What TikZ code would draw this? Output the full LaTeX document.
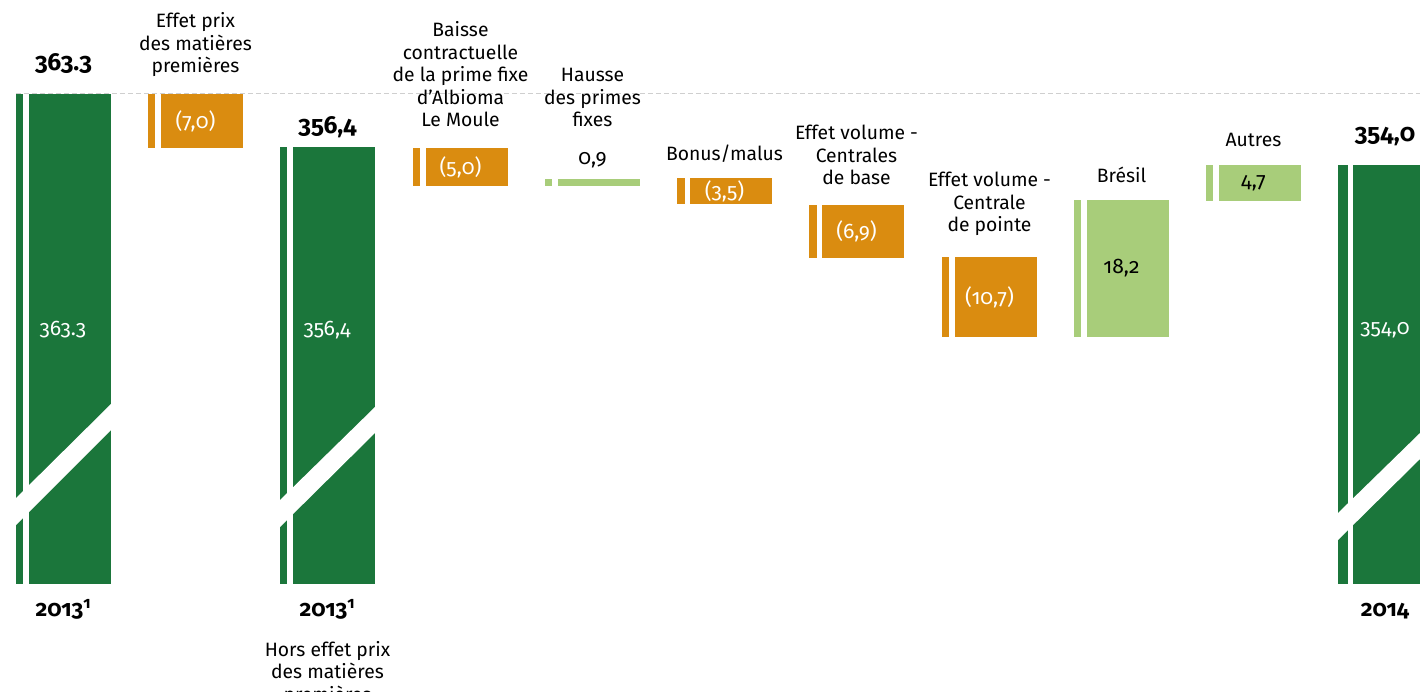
\documentclass[tikz,border=0pt]{standalone}
\usepackage{fontspec}
\setmainfont{Fira Sans}[Numbers=OldStyle]

\definecolor{dkgreen}{HTML}{1B763B}
\definecolor{amber}{HTML}{DA8C10}
\definecolor{ltgreen}{HTML}{A8CD7A}
\definecolor{dashgray}{HTML}{CFCFCF}

\begin{document}
\begin{tikzpicture}[x=0.02cm,y=-0.02cm,
  head/.style={font=\fontsize{11}{12.8}\selectfont, align=center, inner sep=0pt, anchor=south},
  val/.style={font=\fontsize{12}{14}\selectfont, inner sep=0pt, text=white},
  tot/.style={font=\fontsize{14}{16}\selectfont\bfseries, inner sep=0pt, anchor=base},
  yr/.style={font=\fontsize{13}{15}\selectfont\bfseries, inner sep=0pt, anchor=base}]

\useasboundingbox (0,0) rectangle (1420,692);

\draw [dashgray, line width=0.5pt, dash pattern=on 0.1cm off 0.06cm] (16,93.5) -- (1420,93.5);

% 2013
\fill [dkgreen] (16,94) rectangle (23,584);
\fill [dkgreen] (29,94) rectangle (111,584);
\fill [white] (16,498) -- (111,404) -- (111,430) -- (16,525) -- cycle;
% 2013 hors effet prix
\fill [dkgreen] (280,147) rectangle (287,584);
\fill [dkgreen] (293,147) rectangle (375,584);
\fill [white] (280,500) -- (375,407) -- (375,433) -- (280,527) -- cycle;
% 2014
\fill [dkgreen] (1338,165) rectangle (1348,584);
\fill [dkgreen] (1353,165) rectangle (1420,584);
\fill [white] (1338,513) -- (1420,433) -- (1420,459) -- (1338,540) -- cycle;

% variations
\fill [amber] (148,94) rectangle (155,148);
\fill [amber] (161,94) rectangle (243,148);
\fill [amber] (413,148) rectangle (420,186);
\fill [amber] (426,148) rectangle (508,186);
\fill [ltgreen] (545,179) rectangle (552,186);
\fill [ltgreen] (558,179) rectangle (640,186);
\fill [amber] (677,178) rectangle (685,204);
\fill [amber] (690,178) rectangle (772,204);
\fill [amber] (809,205) rectangle (817,258);
\fill [amber] (822,205) rectangle (904,258);
\fill [amber] (942,257) rectangle (949,337);
\fill [amber] (955,257) rectangle (1037,337);
\fill [ltgreen] (1074,200) rectangle (1081,337);
\fill [ltgreen] (1087,200) rectangle (1169,337);
\fill [ltgreen] (1206,165) rectangle (1213,201);
\fill [ltgreen] (1219,165) rectangle (1301,201);

% totals
\node (t1) [tot] at (63.5,71) {363.3};
\node (t2) [tot] at (327.5,134) {356,4};
\node (t3) [tot] at (1385,142) {354,0};
\node (v1) [val] at (63,330) {363.3};
\node (v2) [val] at (327,330) {356,4};
\node (v3) [val] at (1385,330) {354,0};
\node (y1) [yr] at (63.5,616) {2013\textsuperscript{1}};
\node (y2) [yr] at (327.5,616) {2013\textsuperscript{1}};
\node (y3) [yr] at (1385,616) {2014};
\node (n2) [head, anchor=north] at (327.5,640) {\strut Hors effet prix\\des matières\\premières};

% headings
\node (h1) [head] at (195.5,79.75) {Effet prix\\des matières\\premières\strut};
\node (h2) [head] at (460.5,133.75) {Baisse\\contractuelle\\de la prime fixe\\d'Albioma\\Le Moule\strut};
\node (h3) [head] at (592.5,133.75) {Hausse\\des primes\\fixes\strut};
\node (h4) [head] at (724.5,167.75) {Bonus/malus\strut};
\node (h5) [head] at (856.5,191.75) {Effet volume -\\Centrales\\de base\strut};
\node (h6) [head] at (989.5,238.75) {Effet volume -\\Centrale\\de pointe\strut};
\node (h7) [head] at (1121.5,189.75) {Brésil\strut};
\node (h8) [head] at (1253.5,153.75) {Autres\strut};

% values
\node (c1) [val] at (195.5,121) {(7,0)};
\node (c2) [val] at (460.5,167) {(5,0)};
\node (c3) [val, text=black, anchor=base] at (592.5,165) {0,9};
\node (c4) [val] at (724.5,191) {(3,5)};
\node (c5) [val] at (856.5,231.5) {(6,9)};
\node (c6) [val] at (989.5,297) {(10,7)};
\node (c7) [val, text=black] at (1121.5,268.5) {18,2};
\node (c8) [val, text=black] at (1253.5,183) {4,7};

\end{tikzpicture}
\end{document}
